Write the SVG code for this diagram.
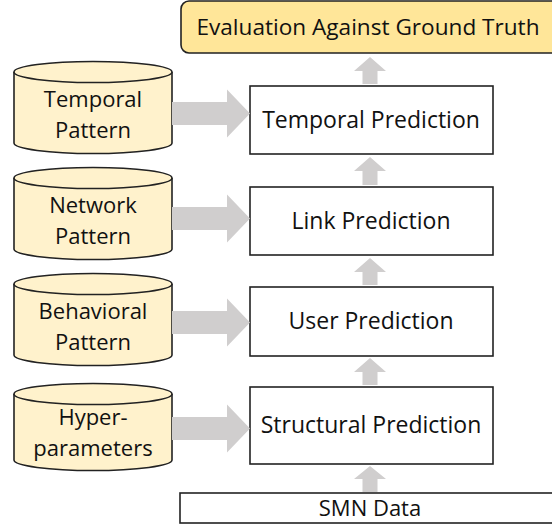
<svg xmlns="http://www.w3.org/2000/svg" width="552" height="527" viewBox="0 0 552 527">
<style>
text{font-family:"Open Sans","Liberation Sans",sans-serif;font-size:22px;fill:#111;text-anchor:middle}
.big{font-size:23px}
.ev{font-size:22.6px}
.box{fill:#fff;stroke:#222;stroke-width:1.6}
.eval{fill:#FFE699;stroke:#222;stroke-width:1.6}
.cyl{fill:#FFF2CC;stroke:#222;stroke-width:1.6}
.arr{fill:#D0CECE;stroke:none}
</style>
<defs>
<g id="cylShape">
<path class="cyl" d="M14,0 L14,71 A79,10.5 0 0 0 172,71 L172,0"/>
<ellipse class="cyl" cx="93" cy="0" rx="79" ry="10.5"/>
</g>
<path id="harr" class="arr" d="M172,-11.5 L227,-11.5 L227,-24 L250,0 L227,24 L227,11.5 L172,11.5 Z"/>
</defs>
<g id="eval">
<rect class="eval" x="181" y="1" width="380" height="52" rx="8"/>
<text class="ev" x="368" y="35">Evaluation Against Ground Truth</text>
</g>
<g id="cyl-temporal">
<use href="#cylShape" y="72"/>
<text x="93" y="107">Temporal</text>
<text x="93" y="138">Pattern</text>
</g>
<g id="cyl-network">
<use href="#cylShape" y="178"/>
<text x="93" y="213">Network</text>
<text x="93" y="244">Pattern</text>
</g>
<g id="cyl-behavioral">
<use href="#cylShape" y="284"/>
<text x="93" y="319">Behavioral</text>
<text x="93" y="350">Pattern</text>
</g>
<g id="cyl-hyper">
<path class="cyl" d="M14,394 L14,460 A79,10.5 0 0 0 172,460 L172,394"/>
<ellipse class="cyl" cx="93" cy="394" rx="79" ry="10.5"/>
<text x="93" y="425">Hyper-</text>
<text x="93" y="456">parameters</text>
</g>
<g id="temporal-pred">
<rect class="box" x="250" y="86" width="243" height="68"/>
<text class="big" x="371" y="128">Temporal Prediction</text>
</g>
<g id="link-pred">
<rect class="box" x="250" y="187" width="243" height="68"/>
<text class="big" x="371" y="229">Link Prediction</text>
</g>
<g id="user-pred">
<rect class="box" x="250" y="287" width="243" height="69"/>
<text class="big" x="371" y="329">User Prediction</text>
</g>
<g id="struct-pred">
<rect class="box" x="250" y="387" width="243" height="77"/>
<text class="big" x="371" y="433">Structural Prediction</text>
</g>
<g id="smn">
<rect class="box" x="180" y="493" width="380" height="30"/>
<text x="370" y="516">SMN Data</text>
</g>
<g id="connectors">
<use href="#harr" y="113.5"/>
<use href="#harr" y="218.5"/>
<use href="#harr" y="322.5"/>
<use href="#harr" y="428.5"/>
<path class="arr" d="M370,57 L386,71 L377.5,71 L377.5,84 L362.5,84 L362.5,71 L354,71 Z"/>
<path class="arr" d="M370,157 L386,171 L377.5,171 L377.5,185 L362.5,185 L362.5,171 L354,171 Z"/>
<path class="arr" d="M370,258 L386,272 L377.5,272 L377.5,285 L362.5,285 L362.5,272 L354,272 Z"/>
<path class="arr" d="M370,358 L386,372 L377.5,372 L377.5,385 L362.5,385 L362.5,372 L354,372 Z"/>
<path class="arr" d="M370,466 L386,479 L377.5,479 L377.5,492 L362.5,492 L362.5,479 L354,479 Z"/>
</g>
</svg>
